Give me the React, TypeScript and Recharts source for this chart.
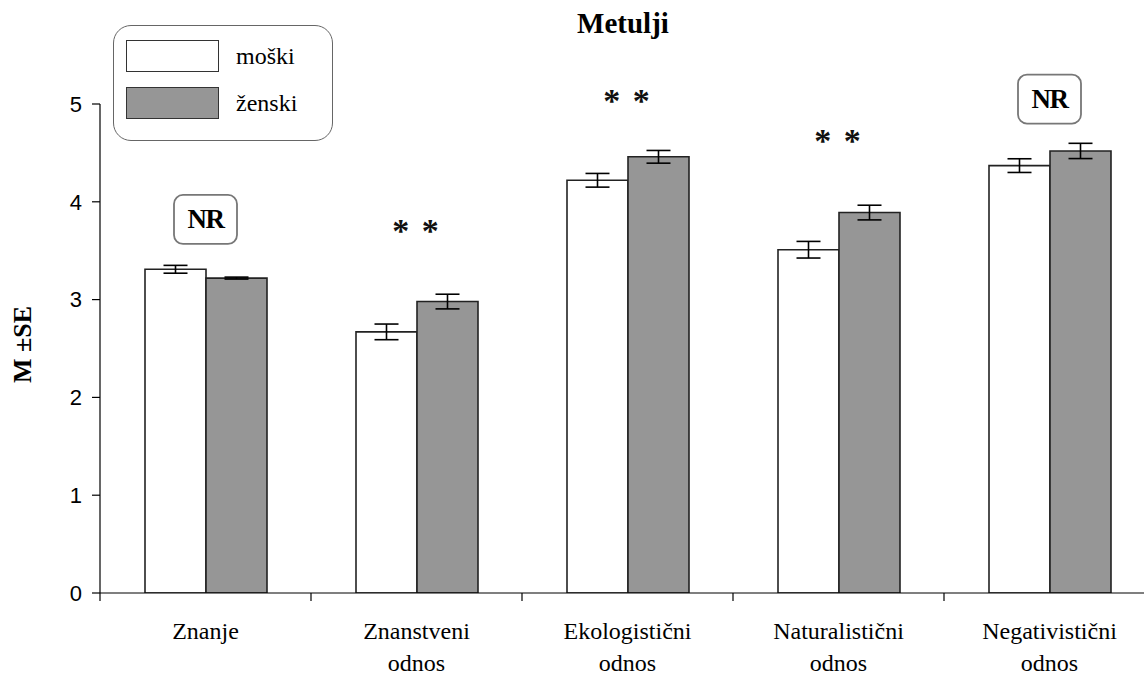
import React from 'react';
import { BarChart, Bar, XAxis, YAxis, ErrorBar, Legend, ReferenceDot } from 'recharts';

const categories = ['Znanje', 'Znanstveni odnos', 'Ekologistični odnos', 'Naturalistični odnos', 'Negativistični odnos'];
const moski = [3.31, 2.67, 4.22, 3.51, 4.37];
const zenski = [3.22, 2.98, 4.46, 3.89, 4.52];
const moskiSE = [0.04, 0.08, 0.07, 0.085, 0.07];
const zenskiSE = [0.01, 0.075, 0.065, 0.075, 0.078];
const annotationText = ['NR', '* *', '* *', '* *', 'NR'];
const annotationY = [3.82, 3.75, 5.08, 4.67, 5.05];
const yTicks = [0, 1, 2, 3, 4, 5];
const seriesNames = ['moški', 'ženski'];
const title = 'Metulji';
const yLabel = 'M \u00B1SE';

const data = categories.map((c, i) => ({
  category: c,
  moski: moski[i],
  zenski: zenski[i],
  moskiSE: moskiSE[i],
  zenskiSE: zenskiSE[i],
}));

const SERIF = '"Liberation Serif", "Times New Roman", serif';
const SANS = '"Liberation Sans", Arial, sans-serif';
const GRAY = '#969696';

function XTick(props: any) {
  const { x, y, payload } = props;
  const half = payload && typeof payload.offset === 'number' && payload.offset > 0 ? payload.offset : 105.5;
  const lines = String(payload.value).split(' ');
  return (
    <g>
      <line x1={x - half} x2={x - half} y1={y} y2={y + 8} stroke="#000" strokeWidth={1.2} />
      <text x={x} y={y} textAnchor="middle" fontFamily={SERIF} fontSize={24} fill="#000">
        {lines.map((l, i) => (
          <tspan key={i} x={x} y={y + 46 + i * 32}>{l}</tspan>
        ))}
      </text>
    </g>
  );
}

function YLabel(props: any) {
  const vb = props.viewBox || { x: 0, y: 104, width: 100, height: 489 };
  const cx = vb.x + 31;
  const cy = vb.y + vb.height / 2 - 4;
  return (
    <text
      x={cx}
      y={cy}
      transform={`rotate(-90, ${cx}, ${cy})`}
      textAnchor="middle"
      fontFamily={SERIF}
      fontWeight="bold"
      fontSize={26}
      fill="#000"
    >
      {yLabel}
    </text>
  );
}

function makeAnnotation(text: string) {
  return (props: any) => {
    const { cx, cy } = props;
    if (text === 'NR') {
      return (
        <g>
          <rect x={cx - 31.5} y={cy - 24.5} width={63} height={49} rx={9} ry={9} fill="#fff" stroke="#777" strokeWidth={1.8} />
          <text x={cx} y={cy + 9} textAnchor="middle" fontFamily={SERIF} fontWeight="bold" fontSize={27} fill="#000" letterSpacing={-1.5}>
            {text}
          </text>
        </g>
      );
    }
    return (
      <text x={cx} y={cy + 16} textAnchor="middle" fontFamily={SERIF} fontWeight="bold" fontSize={34} fill="#111" letterSpacing={2}>
        {text}
      </text>
    );
  };
}

function LegendBox(props: any) {
  const payload = props.payload || [];
  return (
    <div
      style={{
        boxSizing: 'border-box',
        width: 220,
        height: 116,
        border: '1.8px solid #666',
        borderRadius: 18,
        background: '#fff',
        paddingTop: 14,
        paddingLeft: 12,
      }}
    >
      {payload.map((p: any, i: number) => (
        <div key={i} style={{ display: 'flex', alignItems: 'center', height: 32, marginBottom: 15 }}>
          <div
            style={{
              boxSizing: 'border-box',
              width: 93,
              height: 32,
              background: p.color,
              border: '1.8px solid #333',
            }}
          />
          <span style={{ marginLeft: 17, fontFamily: SERIF, fontSize: 24, color: '#000', lineHeight: '32px' }}>
            {p.value}
          </span>
        </div>
      ))}
    </div>
  );
}

export default function App() {
  return (
    <div style={{ position: 'absolute', left: 0, top: 0, width: 1144, height: 677, overflow: 'hidden', background: '#fff' }}>
      <BarChart
        width={1160}
        height={677}
        data={data}
        margin={{ top: 104, right: 5, bottom: 0, left: 0 }}
        barGap={0}
        barSize={61}
      >
        <XAxis
          dataKey="category"
          height={84}
          tickSize={0}
          tickMargin={0}
          tickLine={false}
          interval={0}
          axisLine={{ stroke: '#000', strokeWidth: 1.2 }}
          tick={<XTick />}
        />
        <YAxis
          width={100}
          domain={[0, 5]}
          ticks={yTicks}
          tickSize={8}
          tickMargin={10}
          allowDataOverflow
          axisLine={{ stroke: '#000', strokeWidth: 1.2 }}
          tickLine={{ stroke: '#000', strokeWidth: 1.2 }}
          tick={{ fill: '#000', fontSize: 22, fontFamily: SANS }}
          label={{ content: (p: any) => <YLabel {...p} /> }}
        />
        <Legend
          layout="vertical"
          align="center"
          verticalAlign="middle"
          content={<LegendBox />}
          wrapperStyle={{ position: 'absolute', left: 113, top: 25, width: 220, height: 116 }}
        />
        <Bar dataKey="moski" name={seriesNames[0]} fill="#ffffff" stroke="#222" strokeWidth={1.6} isAnimationActive={false}>
          <ErrorBar dataKey="moskiSE" width={12} stroke="#000" strokeWidth={1.6} direction="y" />
        </Bar>
        <Bar dataKey="zenski" name={seriesNames[1]} fill={GRAY} stroke="#222" strokeWidth={1.6} isAnimationActive={false}>
          <ErrorBar dataKey="zenskiSE" width={12} stroke="#000" strokeWidth={1.6} direction="y" />
        </Bar>
        {categories.map((c, i) => (
          <ReferenceDot
            key={c}
            x={c}
            y={annotationY[i]}
            ifOverflow="visible"
            shape={makeAnnotation(annotationText[i])}
          />
        ))}
      </BarChart>
      <div
        style={{
          position: 'absolute',
          left: 523,
          top: 8,
          width: 200,
          textAlign: 'center',
          fontFamily: SERIF,
          fontWeight: 'bold',
          fontSize: 29,
          lineHeight: '30px',
          color: '#000',
        }}
      >
        {title}
      </div>
    </div>
  );
}
